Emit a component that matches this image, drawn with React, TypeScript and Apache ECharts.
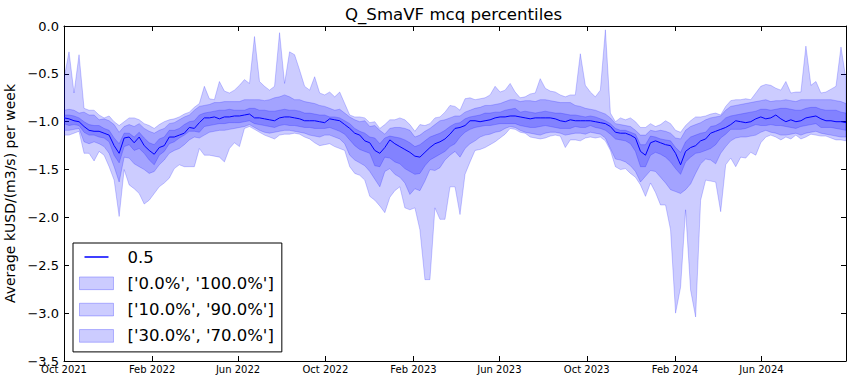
import React, { useEffect, useRef } from "react";
import * as echarts from "echarts";

const FONT = "DejaVu Sans";
const START_UTC = Date.UTC(2021, 9, 1);
const DAY_MS = 86400000;
const WEEK_DAYS = 7;

const xTickLabels = ["Oct 2021", "Feb 2022", "Jun 2022", "Oct 2022", "Feb 2023", "Jun 2023", "Oct 2023", "Feb 2024", "Jun 2024"];
const xTickYearMonth: [number, number][] = [[2021, 9], [2022, 1], [2022, 5], [2022, 9], [2023, 1], [2023, 5], [2023, 9], [2024, 1], [2024, 5]];

const titleText = "Q_SmaVF mcq percentiles";
const yAxisTitle = "Average kUSD/(m3/s) per week";
const medianName = "0.5";
const bandNames = ["['0.0%', '100.0%']", "['10.0%', '90.0%']", "['30.0%', '70.0%']"];

// weekly values, starting Oct 2021
const p50 = [
  -0.96, -0.97, -0.99, -1.00, -1.05, -1.09, -1.10, -1.10, -1.12, -1.14, -1.25, -1.33, -1.17, -1.16, -1.22, -1.16, -1.25, -1.30, -1.34, -1.27,
  -1.25, -1.16, -1.16, -1.14, -1.12, -1.06, -1.07, -1.01, -0.96, -0.96, -0.95, -0.97, -0.95, -0.95, -0.94, -0.94, -0.93, -0.92, -0.96, -0.96,
  -0.97, -0.98, -0.99, -0.96, -0.95, -0.95, -0.96, -0.97, -0.99, -0.99, -0.99, -1.00, -1.01, -0.97, -0.98, -0.99, -1.03, -1.07, -1.12, -1.14,
  -1.20, -1.22, -1.30, -1.33, -1.27, -1.19, -1.23, -1.26, -1.29, -1.32, -1.36, -1.37, -1.32, -1.27, -1.23, -1.21, -1.18, -1.13, -1.07, -1.06,
  -1.04, -0.99, -0.99, -1.00, -0.99, -0.98, -0.96, -0.95, -0.95, -0.94, -0.94, -0.95, -0.96, -0.97, -0.96, -0.96, -0.96, -0.96, -0.97, -0.99,
  -1.00, -0.98, -0.99, -0.99, -0.99, -0.99, -1.00, -1.01, -1.02, -1.05, -1.11, -1.12, -1.12, -1.14, -1.17, -1.31, -1.35, -1.22, -1.20, -1.22,
  -1.24, -1.25, -1.33, -1.45, -1.31, -1.27, -1.25, -1.20, -1.18, -1.12, -1.10, -1.08, -1.06, -1.03, -0.99, -1.00, -1.01, -1.00, -0.97, -0.95,
  -0.97, -0.96, -0.93, -0.97, -1.00, -0.98, -1.00, -0.99, -0.96, -0.95, -0.94, -0.97, -0.99, -0.99, -1.00, -1.00, -1.01,
];
const p100 = [
  -0.55, -0.27, -0.70, -0.30, -0.86, -0.88, -0.88, -0.93, -0.96, -0.94, -1.00, -1.04, -1.00, -0.96, -0.96, -0.98, -1.02, -1.04, -1.07, -1.03,
  -1.00, -0.98, -0.97, -0.95, -0.92, -0.90, -0.85, -0.81, -0.63, -0.76, -0.77, -0.58, -0.68, -0.70, -0.67, -0.62, -0.56, -0.60, -0.11, -0.58,
  -0.63, -0.67, -0.63, -0.07, -0.60, -0.27, -0.30, -0.46, -0.63, -0.67, -0.53, -0.70, -0.72, -0.69, -0.74, -0.69, -0.81, -0.93, -0.95, -0.95,
  -0.96, -1.01, -1.00, -1.07, -1.03, -0.98, -0.98, -0.96, -0.98, -1.03, -1.10, -1.03, -1.04, -1.02, -0.96, -0.95, -0.90, -0.83, -0.84, -0.88,
  -0.76, -0.75, -0.77, -0.76, -0.75, -0.72, -0.63, -0.69, -0.67, -0.60, -0.69, -0.75, -0.74, -0.71, -0.70, -0.55, -0.65, -0.68, -0.69, -0.72,
  -0.74, -0.72, -0.72, -0.29, -0.62, -0.69, -0.74, -0.67, -0.04, -0.91, -1.00, -0.96, -0.98, -0.96, -1.00, -1.06, -1.06, -1.02, -1.05, -1.03,
  -0.99, -1.02, -1.09, -1.11, -1.04, -0.99, -0.95, -0.95, -0.94, -0.92, -0.91, -0.93, -0.84, -0.78, -0.77, -0.77, -0.76, -0.77, -0.70, -0.63,
  -0.61, -0.62, -0.65, -0.67, -0.58, -0.70, -0.69, -0.69, -0.21, -0.62, -0.58, -0.70, -0.69, -0.66, -0.63, -0.22, -0.56,
];
const p90 = [
  -0.88, -0.87, -0.88, -0.91, -0.90, -0.93, -0.93, -0.98, -0.97, -0.99, -1.03, -1.11, -1.05, -1.03, -1.05, -1.02, -1.07, -1.10, -1.12, -1.09,
  -1.07, -1.02, -1.01, -0.98, -0.95, -0.93, -0.88, -0.84, -0.83, -0.82, -0.80, -0.80, -0.79, -0.79, -0.79, -0.79, -0.77, -0.77, -0.77, -0.77,
  -0.78, -0.77, -0.75, -0.74, -0.72, -0.74, -0.77, -0.77, -0.79, -0.80, -0.81, -0.83, -0.84, -0.86, -0.88, -0.87, -0.91, -0.95, -0.98, -1.00,
  -0.99, -1.05, -1.04, -1.09, -1.13, -1.07, -1.06, -1.06, -1.07, -1.09, -1.16, -1.14, -1.10, -1.07, -1.03, -0.99, -0.98, -0.96, -0.94, -0.94,
  -0.90, -0.88, -0.86, -0.85, -0.83, -0.83, -0.82, -0.81, -0.79, -0.77, -0.77, -0.79, -0.78, -0.78, -0.79, -0.77, -0.77, -0.78, -0.79, -0.80,
  -0.80, -0.80, -0.83, -0.84, -0.86, -0.87, -0.88, -0.90, -0.92, -0.96, -1.02, -1.03, -1.04, -1.05, -1.09, -1.14, -1.14, -1.09, -1.10, -1.09,
  -1.10, -1.12, -1.17, -1.18, -1.09, -1.05, -1.03, -1.01, -0.98, -0.96, -0.95, -0.94, -0.88, -0.84, -0.83, -0.82, -0.81, -0.80, -0.79, -0.78,
  -0.77, -0.79, -0.78, -0.78, -0.77, -0.78, -0.79, -0.77, -0.77, -0.77, -0.77, -0.77, -0.77, -0.77, -0.78, -0.79, -0.81,
];
const p70 = [
  -0.93, -0.93, -0.94, -0.96, -1.00, -1.03, -1.04, -1.04, -1.07, -1.09, -1.17, -1.23, -1.12, -1.12, -1.16, -1.11, -1.17, -1.22, -1.24, -1.18,
  -1.16, -1.09, -1.09, -1.07, -1.03, -1.00, -0.99, -0.93, -0.91, -0.90, -0.89, -0.88, -0.88, -0.87, -0.88, -0.88, -0.88, -0.86, -0.86, -0.88,
  -0.88, -0.89, -0.89, -0.88, -0.87, -0.88, -0.88, -0.89, -0.91, -0.91, -0.92, -0.93, -0.93, -0.95, -0.95, -0.96, -0.99, -1.02, -1.07, -1.10,
  -1.12, -1.16, -1.17, -1.23, -1.17, -1.15, -1.16, -1.17, -1.19, -1.22, -1.26, -1.24, -1.20, -1.16, -1.14, -1.12, -1.09, -1.05, -1.02, -1.01,
  -0.97, -0.95, -0.94, -0.93, -0.91, -0.91, -0.90, -0.90, -0.88, -0.87, -0.86, -0.90, -0.89, -0.90, -0.91, -0.90, -0.89, -0.90, -0.91, -0.91,
  -0.92, -0.93, -0.93, -0.94, -0.95, -0.94, -0.95, -0.97, -0.99, -1.02, -1.07, -1.09, -1.09, -1.11, -1.13, -1.24, -1.24, -1.15, -1.16, -1.18,
  -1.19, -1.20, -1.27, -1.32, -1.21, -1.16, -1.14, -1.12, -1.11, -1.05, -1.04, -1.01, -0.96, -0.94, -0.93, -0.92, -0.91, -0.90, -0.89, -0.87,
  -0.87, -0.88, -0.87, -0.86, -0.86, -0.87, -0.88, -0.88, -0.86, -0.85, -0.85, -0.87, -0.88, -0.88, -0.88, -0.90, -0.91,
];
const p30 = [
  -1.02, -1.04, -1.03, -1.04, -1.11, -1.14, -1.14, -1.16, -1.17, -1.21, -1.35, -1.43, -1.26, -1.24, -1.30, -1.28, -1.33, -1.40, -1.45, -1.35,
  -1.31, -1.23, -1.21, -1.17, -1.14, -1.10, -1.10, -1.11, -1.05, -1.04, -1.03, -1.02, -1.02, -1.01, -1.01, -1.01, -1.00, -0.99, -1.02, -1.03,
  -1.04, -1.05, -1.06, -1.04, -1.03, -1.04, -1.04, -1.05, -1.06, -1.06, -1.07, -1.07, -1.07, -1.06, -1.08, -1.10, -1.13, -1.19, -1.25, -1.29,
  -1.31, -1.33, -1.46, -1.47, -1.37, -1.38, -1.42, -1.44, -1.49, -1.52, -1.55, -1.54, -1.46, -1.40, -1.37, -1.34, -1.31, -1.26, -1.23, -1.16,
  -1.11, -1.08, -1.06, -1.05, -1.04, -1.04, -1.03, -1.02, -1.02, -1.02, -1.02, -1.04, -1.05, -1.06, -1.06, -1.05, -1.04, -1.05, -1.06, -1.07,
  -1.07, -1.07, -1.05, -1.06, -1.06, -1.04, -1.06, -1.07, -1.09, -1.13, -1.18, -1.19, -1.20, -1.23, -1.31, -1.47, -1.47, -1.35, -1.32, -1.34,
  -1.37, -1.42, -1.49, -1.55, -1.42, -1.37, -1.33, -1.32, -1.30, -1.28, -1.24, -1.17, -1.13, -1.08, -1.08, -1.08, -1.07, -1.05, -1.03, -1.04,
  -1.04, -1.03, -1.04, -1.04, -1.05, -1.06, -1.07, -1.05, -1.04, -1.03, -1.02, -1.06, -1.06, -1.06, -1.07, -1.08, -1.09,
];
const p10 = [
  -1.09, -1.09, -1.08, -1.07, -1.21, -1.23, -1.21, -1.23, -1.26, -1.33, -1.47, -1.63, -1.37, -1.38, -1.44, -1.47, -1.50, -1.54, -1.52, -1.45,
  -1.40, -1.33, -1.30, -1.28, -1.24, -1.19, -1.16, -1.17, -1.14, -1.11, -1.10, -1.09, -1.09, -1.08, -1.07, -1.06, -1.05, -1.03, -1.06, -1.09,
  -1.11, -1.12, -1.11, -1.10, -1.09, -1.09, -1.10, -1.11, -1.12, -1.14, -1.15, -1.16, -1.14, -1.14, -1.16, -1.18, -1.23, -1.35, -1.40, -1.43,
  -1.46, -1.52, -1.60, -1.68, -1.52, -1.49, -1.55, -1.58, -1.64, -1.76, -1.70, -1.72, -1.62, -1.50, -1.51, -1.48, -1.40, -1.35, -1.31, -1.37,
  -1.28, -1.23, -1.20, -1.16, -1.14, -1.13, -1.11, -1.10, -1.07, -1.05, -1.06, -1.09, -1.11, -1.12, -1.13, -1.14, -1.12, -1.11, -1.11, -1.12,
  -1.14, -1.13, -1.12, -1.12, -1.13, -1.11, -1.12, -1.13, -1.17, -1.28, -1.39, -1.40, -1.42, -1.46, -1.52, -1.63, -1.57, -1.51, -1.52, -1.58,
  -1.64, -1.71, -1.73, -1.75, -1.71, -1.65, -1.54, -1.44, -1.39, -1.40, -1.44, -1.33, -1.26, -1.20, -1.17, -1.16, -1.16, -1.15, -1.14, -1.11,
  -1.09, -1.11, -1.12, -1.14, -1.14, -1.13, -1.12, -1.14, -1.12, -1.11, -1.10, -1.12, -1.13, -1.14, -1.15, -1.16, -1.16,
];
const p0 = [
  -1.14, -1.14, -1.12, -1.10, -1.33, -1.33, -1.41, -1.31, -1.35, -1.47, -1.61, -1.99, -1.50, -1.66, -1.70, -1.75, -1.86, -1.82, -1.75, -1.68,
  -1.64, -1.59, -1.49, -1.45, -1.47, -1.47, -1.47, -1.28, -1.35, -1.35, -1.36, -1.37, -1.42, -1.28, -1.22, -1.26, -1.07, -1.05, -1.08, -1.11,
  -1.14, -1.16, -1.18, -1.14, -1.13, -1.13, -1.12, -1.13, -1.16, -1.18, -1.22, -1.25, -1.24, -1.23, -1.26, -1.28, -1.30, -1.47, -1.54, -1.56,
  -1.61, -1.78, -1.82, -1.88, -1.95, -1.79, -1.72, -1.68, -1.90, -1.92, -1.90, -2.13, -2.65, -2.65, -1.90, -2.02, -2.02, -1.68, -1.68, -1.97,
  -1.55, -1.42, -1.30, -1.29, -1.27, -1.24, -1.21, -1.17, -1.13, -1.07, -1.08, -1.11, -1.12, -1.16, -1.17, -1.18, -1.17, -1.15, -1.14, -1.15,
  -1.27, -1.19, -1.19, -1.20, -1.17, -1.16, -1.17, -1.16, -1.20, -1.30, -1.47, -1.50, -1.49, -1.54, -1.58, -1.66, -1.78, -1.64, -1.74, -1.87,
  -1.87, -2.13, -3.00, -2.73, -1.92, -2.76, -3.04, -1.82, -1.61, -1.62, -1.63, -1.94, -1.45, -1.38, -1.47, -1.37, -1.38, -1.32, -1.35, -1.22,
  -1.16, -1.14, -1.16, -1.19, -1.16, -1.18, -1.14, -1.18, -1.16, -1.13, -1.14, -1.15, -1.15, -1.17, -1.19, -1.19, -1.20,
];

const BAND_COLOR = "rgba(0,0,255,0.2)";
const LINE_COLOR = "#0000ff";
const LINE_ICON = "path://M0,6h0.01v0.01h-0.01zM5,5.3h24v1.5h-24zM43,6h0.01v0.01h-0.01z";
const PATCH_ICON = "path://M0,0h34v12.7h-34zM43,6h0.01v0.01h-0.01z";

function fmtY(v: number): string {
  if (Math.abs(v) < 1e-9) return "0.0";
  return (v < 0 ? "\u2212" : "") + Math.abs(v).toFixed(1);
}

export default function App() {
  const ref = useRef<HTMLDivElement>(null);
  useEffect(() => {
    if (!ref.current) return;
    const chart = echarts.init(ref.current, undefined, { renderer: "svg" });
    const weekX = p50.map((_, i) => i * WEEK_DAYS);
    const xMax = weekX[weekX.length - 1];
    const tickDays = xTickYearMonth.map(([y, m]) => (Date.UTC(y, m, 1) - START_UTC) / DAY_MS);
    const bands: [number[], number[]][] = [[p0, p100], [p10, p90], [p30, p70]];
    const series: any[] = bands.map(([lo, hi], k) => ({
      type: "custom",
      name: bandNames[k],
      silent: true,
      clip: true,
      z: 2,
      data: [[weekX[0], lo[0]]],
      encode: { x: 0, y: 1 },
      itemStyle: { color: BAND_COLOR },
      renderItem: (_params: any, api: any) => {
        const pts: number[][] = [];
        for (let i = 0; i < weekX.length; i++) pts.push(api.coord([weekX[i], hi[i]]));
        for (let i = weekX.length - 1; i >= 0; i--) pts.push(api.coord([weekX[i], lo[i]]));
        return {
          type: "polygon",
          shape: { points: pts },
          style: { fill: BAND_COLOR, stroke: BAND_COLOR, lineWidth: 1 },
        };
      },
    }));
    series.push({
      type: "line", name: medianName, data: p50.map((v, i) => [weekX[i], v]),
      symbol: "none", showSymbol: false, silent: true, z: 3,
      lineStyle: { color: LINE_COLOR, width: 1 }, itemStyle: { color: LINE_COLOR },
    });

    const xLabelFmt = (val: number) => {
      const idx = tickDays.findIndex((d) => Math.abs(d - val) < 0.5);
      return idx >= 0 ? xTickLabels[idx] : "";
    };
    const axisLineStyle = { show: true, onZero: false, lineStyle: { color: "#000", width: 1 } };
    const tickStyle = { show: true, inside: true, length: 5, lineStyle: { color: "#000", width: 1 } };

    chart.setOption({
      animation: false,
      backgroundColor: "#ffffff",
      title: {
        text: titleText, left: 345, top: 5.5, padding: 0,
        textStyle: { fontFamily: FONT, fontSize: 16.6, fontWeight: "normal", color: "#000", lineHeight: 17 },
      },
      grid: { left: 64, right: 6, top: 26, bottom: 21, containLabel: false, outerBoundsMode: "none" },
      xAxis: [
        {
          type: "value", min: 0, max: xMax, position: "bottom",
          axisLine: axisLineStyle,
          axisTick: { ...tickStyle, customValues: tickDays },
          axisLabel: { customValues: tickDays, formatter: xLabelFmt, fontFamily: FONT, fontSize: 10, color: "#000", margin: 3 },
          splitLine: { show: false },
        },
        {
          type: "value", min: 0, max: xMax, position: "top",
          axisLine: axisLineStyle,
          axisTick: { ...tickStyle, customValues: tickDays },
          axisLabel: { show: false },
          splitLine: { show: false },
        },
      ],
      yAxis: [
        {
          type: "value", min: -3.5, max: 0, interval: 0.5, position: "left",
          name: yAxisTitle, nameLocation: "middle", nameGap: 42,
          nameTextStyle: { fontFamily: FONT, fontSize: 14, color: "#000" },
          axisLine: axisLineStyle, axisTick: tickStyle,
          axisLabel: { formatter: fmtY, fontFamily: FONT, fontSize: 13, color: "#000", margin: 5 },
          splitLine: { show: false },
        },
        {
          type: "value", min: -3.5, max: 0, interval: 0.5, position: "right",
          axisLine: axisLineStyle, axisTick: tickStyle,
          axisLabel: { show: false }, splitLine: { show: false },
        },
      ],
      legend: {
        orient: "vertical", left: 73, top: 243, padding: [5, 8, 7, 6],
        itemGap: 8.3, itemWidth: 43, itemHeight: 13,
        backgroundColor: "#ffffff", borderColor: "#000000", borderWidth: 1, borderRadius: 0,
        selectedMode: false, z: 10,
        textStyle: { fontFamily: FONT, fontSize: 16.5, color: "#000", lineHeight: 18 },
        data: [
          { name: medianName, icon: LINE_ICON, itemStyle: { color: LINE_COLOR, borderWidth: 0, opacity: 1 } },
          ...bandNames.map((n) => ({
            name: n, icon: PATCH_ICON,
            itemStyle: { color: BAND_COLOR, borderColor: "rgba(0,0,255,0.25)", borderWidth: 1, opacity: 1 },
          })),
        ],
      },
      series,
    });
    return () => chart.dispose();
  }, []);
  return (
    <div
      ref={ref}
      style={{ position: "absolute", left: 0, top: 0, width: 852, height: 382, background: "#fff" }}
    />
  );
}
